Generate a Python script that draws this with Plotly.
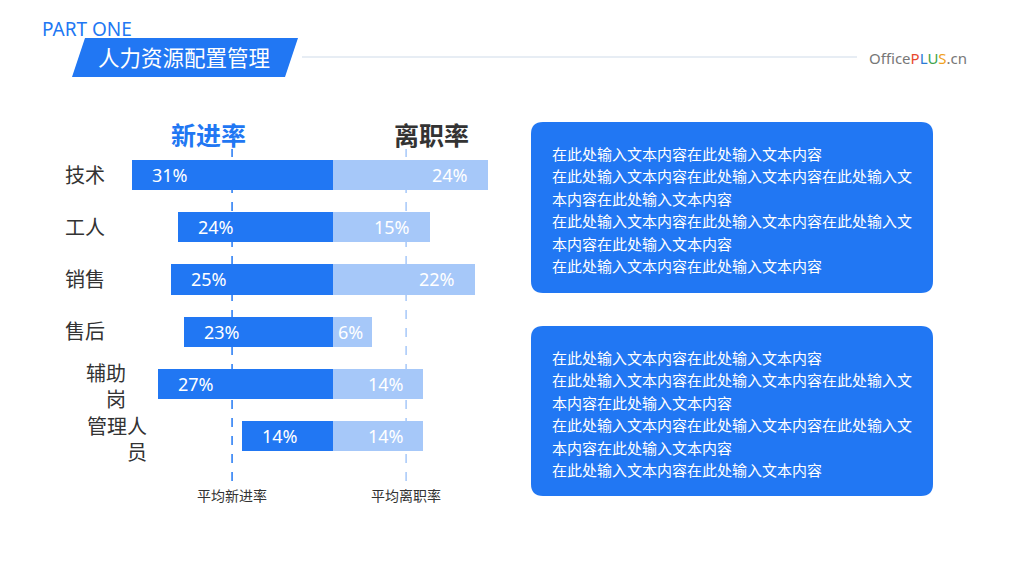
import plotly.graph_objects as go

# ---------------- data ----------------
categories = ["技术", "工人", "销售", "售后", "辅助岗", "管理人员"]
new_rate = [31, 24, 25, 23, 27, 14]      # 新进率 (%)
leave_rate = [24, 15, 22, 6, 14, 14]     # 离职率 (%)
avg_new = 15.6                           # 平均新进率 marker
avg_leave = 11.3                         # 平均离职率 marker
series_names = ["新进率", "离职率"]
avg_labels = ["平均新进率", "平均离职率"]
box_lines = [
    "在此处输入文本内容在此处输入文本内容",
    "在此处输入文本内容在此处输入文本内容在此处输入文",
    "本内容在此处输入文本内容",
    "在此处输入文本内容在此处输入文本内容在此处输入文",
    "本内容在此处输入文本内容",
    "在此处输入文本内容在此处输入文本内容",
]

W, H = 1024, 576
BLUE = "#2177f3"
LIGHT = "#a6c8f9"
DARK = "#333333"
FONT = "Noto Sans, Noto Sans CJK SC"


def px(x):
    return x / W


def py(y):
    return 1 - y / H


# axis geometry (pixels)
x0_px = 333.0
ppu = 6.47
xr = 40
xdom = [(x0_px - xr * ppu) / W, (x0_px + xr * ppu) / W]
top_px, bot_px = 148.9, 462.1
ydom = [1 - bot_px / H, 1 - top_px / H]

fig = go.Figure()
fig.add_trace(go.Bar(
    y=categories, x=[-v for v in new_rate], orientation="h",
    marker=dict(color=BLUE, line=dict(width=0)), width=0.575, name=series_names[0],
    hoverinfo="skip",
))
fig.add_trace(go.Bar(
    y=categories, x=leave_rate, orientation="h",
    marker=dict(color=LIGHT, line=dict(width=0)), width=0.575, name=series_names[1],
    hoverinfo="skip",
))

ann = []
shapes = []


def text_w(s):
    return 10 * (len(s) - 1) + 16


for c, v in zip(categories, new_rate):
    s = f"{v}%"
    shift = min(18, (v * ppu - text_w(s)) / 2)
    ann.append(dict(x=-v, y=c, xref="x", yref="y", text=s, showarrow=False,
                    xanchor="left", yanchor="middle", xshift=shift,
                    font=dict(family=FONT, size=18, color="white")))
for c, v in zip(categories, leave_rate):
    s = f"{v}%"
    shift = min(18, (v * ppu - text_w(s)) / 2)
    ann.append(dict(x=v, y=c, xref="x", yref="y", text=s, showarrow=False,
                    xanchor="right", yanchor="middle", xshift=-shift,
                    font=dict(family=FONT, size=18, color="white")))

# category labels
label_pos = {"技术": ("left", 63), "工人": ("left", 63), "销售": ("left", 63),
             "售后": ("left", 63), "辅助岗": ("right", 128), "管理人员": ("right", 149)}
for c in categories:
    anchor, xp = label_pos[c]
    txt = c if len(c) <= 2 else (c[:2] + "<br>" + c[2:] if len(c) == 3 else c[:3] + "<br>" + c[3:])
    ann.append(dict(x=px(xp), y=c, xref="paper", yref="y", text=txt, showarrow=False,
                    xanchor=anchor, yanchor="middle", align="right",
                    yshift=(0 if len(c) <= 2 else -3),
                    font=dict(family=FONT, size=20, color=DARK)))

# series headers
ann.append(dict(x=px(208), y=py(135), xref="paper", yref="paper", text="<b>" + series_names[0] + "</b>",
                showarrow=False, xanchor="center", yanchor="middle",
                font=dict(family=FONT, size=25, color=BLUE)))
ann.append(dict(x=px(431), y=py(135), xref="paper", yref="paper", text="<b>" + series_names[1] + "</b>",
                showarrow=False, xanchor="center", yanchor="middle",
                font=dict(family=FONT, size=25, color=DARK)))

# average dashed lines
for xv, col, lab in [(-avg_new, BLUE, avg_labels[0]), (avg_leave, LIGHT, avg_labels[1])]:
    shapes.append(dict(type="line", xref="x", yref="paper", x0=xv, x1=xv,
                       y0=py(481), y1=py(149), line=dict(color=col, width=1.5, dash="dash"),
                       layer="below"))
    ann.append(dict(x=xv, y=py(495), xref="x", yref="paper", text=lab, showarrow=False,
                    xanchor="center", yanchor="middle",
                    font=dict(family=FONT, size=14, color=DARK)))


# rounded boxes
def rrect(x0, y0, x1, y1, r):
    rx, ry = r / W, r / H
    X0, X1 = px(x0), px(x1)
    Y0, Y1 = py(y0), py(y1)  # Y0 top (larger), Y1 bottom
    return (f"M {X0+rx},{Y0} L {X1-rx},{Y0} Q {X1},{Y0} {X1},{Y0-ry} "
            f"L {X1},{Y1+ry} Q {X1},{Y1} {X1-rx},{Y1} L {X0+rx},{Y1} "
            f"Q {X0},{Y1} {X0},{Y1+ry} L {X0},{Y0-ry} Q {X0},{Y0} {X0+rx},{Y0} Z")


for top, bot in [(122, 293), (326, 496)]:
    shapes.append(dict(type="path", xref="paper", yref="paper", path=rrect(531, top, 933, bot, 12),
                       fillcolor=BLUE, line=dict(width=0)))
    for i, line in enumerate(box_lines):
        ann.append(dict(x=px(550), y=py(top + 32 + i * 22.4), xref="paper", yref="paper",
                        text=line, showarrow=False, xanchor="left", yanchor="middle",
                        font=dict(family=FONT, size=15, color="white")))

# header
ann.append(dict(x=px(40), y=py(29), xref="paper", yref="paper", text="PART ONE", showarrow=False,
                xanchor="left", yanchor="middle", font=dict(family=FONT, size=19, color=BLUE)))
shapes.append(dict(type="path", xref="paper", yref="paper",
                   path=f"M {px(72)},{py(77)} L {px(85)},{py(38)} L {px(298)},{py(38)} L {px(285)},{py(77)} Z",
                   fillcolor=BLUE, line=dict(width=0)))
ann.append(dict(x=px(184), y=py(58), xref="paper", yref="paper", text="人力资源配置管理", showarrow=False,
                xanchor="center", yanchor="middle",
                font=dict(family=FONT, size=21.5, color="white")))
shapes.append(dict(type="line", xref="paper", yref="paper", x0=px(302), x1=px(857), y0=py(57), y1=py(57),
                   line=dict(color="#dfe7f1", width=1.5)))
logo = ("<span style='color:#777777'>Office</span><span style='color:#e8492c'>P</span>"
        "<span style='color:#2a7ad5'>L</span><span style='color:#3fa34d'>U</span>"
        "<span style='color:#f0a020'>S</span><span style='color:#777777'>.cn</span>")
ann.append(dict(x=px(867), y=py(58), xref="paper", yref="paper", text=logo, showarrow=False,
                xanchor="left", yanchor="middle", font=dict(family=FONT, size=15)))

fig.update_layout(
    width=W, height=H, margin=dict(l=0, r=0, t=0, b=0),
    paper_bgcolor="white", plot_bgcolor="white",
    barmode="relative", bargap=0, showlegend=False,
    xaxis=dict(domain=xdom, range=[-xr, xr], visible=False, fixedrange=True),
    yaxis=dict(domain=ydom, range=[5.5, -0.5], visible=False, type="category",
               categoryorder="array", categoryarray=categories, fixedrange=True),
    annotations=ann, shapes=shapes,
)
fig.write_html("out.html", config={"displayModeBar": False},
               post_script="document.body.style.margin='0';document.body.style.overflow='hidden';")
